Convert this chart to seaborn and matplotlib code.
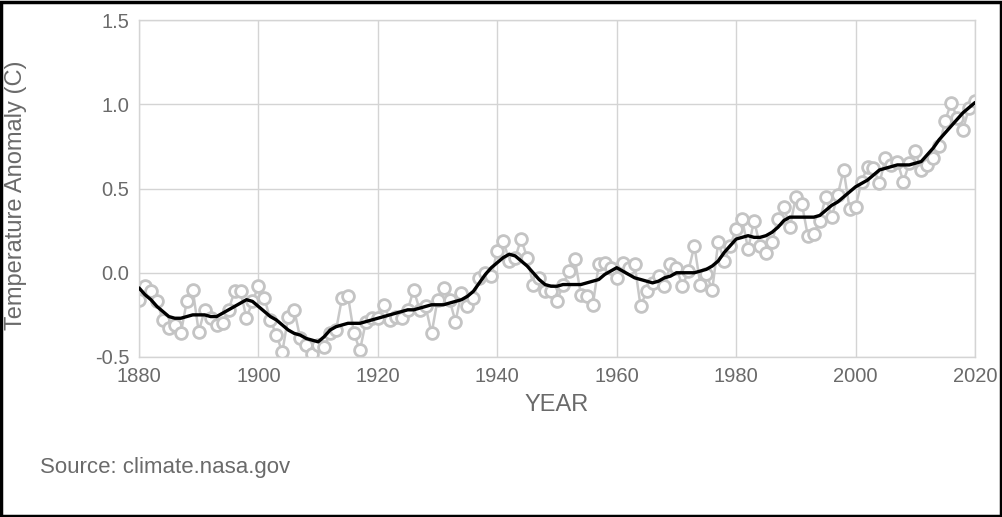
import matplotlib
matplotlib.use("Agg")
import matplotlib.pyplot as plt
import numpy as np
import pandas as pd
import seaborn as sns

# annual mean temperature anomaly (C), 1880-2020
years = list(range(1880, 2021))
annual = [
    -0.16, -0.08, -0.11, -0.17, -0.28, -0.33, -0.31, -0.36, -0.17, -0.10,
    -0.35, -0.22, -0.27, -0.31, -0.30, -0.22, -0.11, -0.11, -0.27, -0.17,
    -0.08, -0.15, -0.28, -0.37, -0.47, -0.26, -0.22, -0.39, -0.43, -0.48,
    -0.43, -0.44, -0.36, -0.34, -0.15, -0.14, -0.36, -0.46, -0.29, -0.27,
    -0.27, -0.19, -0.28, -0.26, -0.27, -0.22, -0.10, -0.22, -0.20, -0.36,
    -0.16, -0.09, -0.16, -0.29, -0.12, -0.20, -0.15, -0.03, -0.00, -0.02,
    0.13, 0.19, 0.07, 0.09, 0.20, 0.09, -0.07, -0.03, -0.11, -0.11,
    -0.17, -0.07, 0.01, 0.08, -0.13, -0.14, -0.19, 0.05, 0.06, 0.03,
    -0.03, 0.06, 0.03, 0.05, -0.20, -0.11, -0.06, -0.02, -0.08, 0.05,
    0.03, -0.08, 0.01, 0.16, -0.07, -0.01, -0.10, 0.18, 0.07, 0.16,
    0.26, 0.32, 0.14, 0.31, 0.16, 0.12, 0.18, 0.32, 0.39, 0.27,
    0.45, 0.41, 0.22, 0.23, 0.31, 0.45, 0.33, 0.46, 0.61, 0.38,
    0.39, 0.54, 0.63, 0.62, 0.53, 0.68, 0.64, 0.66, 0.54, 0.65,
    0.72, 0.61, 0.64, 0.68, 0.75, 0.90, 1.01, 0.92, 0.85, 0.98,
    1.02,
]
# lowess smoothed (5 year)
smooth = [
    -0.09, -0.13, -0.16, -0.20, -0.23, -0.26, -0.27, -0.27, -0.26, -0.25,
    -0.25, -0.25, -0.26, -0.26, -0.24, -0.22, -0.20, -0.18, -0.16, -0.17,
    -0.20, -0.23, -0.26, -0.28, -0.31, -0.34, -0.36, -0.37, -0.39, -0.40,
    -0.41, -0.38, -0.34, -0.32, -0.31, -0.30, -0.30, -0.30, -0.29, -0.28,
    -0.27, -0.26, -0.25, -0.24, -0.23, -0.22, -0.22, -0.21, -0.20, -0.19,
    -0.19, -0.19, -0.18, -0.17, -0.16, -0.14, -0.11, -0.06, -0.01, 0.03,
    0.06, 0.09, 0.11, 0.10, 0.07, 0.04, 0.00, -0.04, -0.07, -0.08,
    -0.08, -0.07, -0.07, -0.07, -0.07, -0.06, -0.05, -0.04, -0.01, 0.01,
    0.03, 0.01, -0.01, -0.03, -0.04, -0.05, -0.06, -0.05, -0.03, -0.02,
    0.00, 0.00, 0.00, 0.00, 0.01, 0.02, 0.04, 0.07, 0.12, 0.16,
    0.20, 0.21, 0.22, 0.21, 0.21, 0.22, 0.24, 0.27, 0.31, 0.33,
    0.33, 0.33, 0.33, 0.33, 0.34, 0.37, 0.40, 0.42, 0.45, 0.48,
    0.51, 0.53, 0.55, 0.58, 0.61, 0.62, 0.63, 0.64, 0.64, 0.64,
    0.65, 0.66, 0.70, 0.74, 0.79, 0.83, 0.87, 0.91, 0.95, 0.98,
    1.01,
]
x_ticks = [1880, 1900, 1920, 1940, 1960, 1980, 2000, 2020]
y_ticks = [-0.5, 0.0, 0.5, 1.0, 1.5]

df = pd.DataFrame({"year": years, "annual": annual, "smooth": smooth})

sns.set_style("whitegrid")
plt.rcParams["font.family"] = ["Liberation Sans", "DejaVu Sans"]

fig = plt.figure(figsize=(10.03, 5.17), dpi=100)
ax = fig.add_axes([139 / 1003, 1 - 357 / 517, 836 / 1003, 337 / 517])

grid_c = "#d4d4d4"
txt_c = "#6a6a6a"
sns.lineplot(data=df, x="year", y="annual", ax=ax, color="#c8c8c8", lw=1.8,
             marker="o", markersize=8.5, markerfacecolor="white",
             markeredgecolor="#c4c4c4", markeredgewidth=2, zorder=2)
sns.lineplot(data=df, x="year", y="smooth", ax=ax, color="black", lw=2.4, zorder=3)

ax.set_xlim(1880, 2020)
ax.set_ylim(-0.5, 1.5)
ax.set_xticks(x_ticks)
ax.set_yticks(y_ticks)
ax.set_yticklabels([f"{v:.1f}" for v in y_ticks])
ax.grid(True, color=grid_c, lw=1)
for s in ax.spines.values():
    s.set_color(grid_c)
    s.set_linewidth(1)
ax.tick_params(length=0, labelsize=14.5, labelcolor=txt_c, pad=7)
ax.set_xlabel("YEAR", fontsize=17, color=txt_c, labelpad=6)
ax.set_ylabel("Temperature Anomaly (C)", fontsize=17, color=txt_c)
ax.yaxis.set_label_coords(-0.134, 0.48)

fig.text(40 / 1003, 1 - 467 / 517, "Source: climate.nasa.gov", fontsize=16,
         color=txt_c, va="center", ha="left")

# black frame around the whole picture
fig.patches.append(plt.Rectangle((0.001, 0.002), 0.997, 0.995, transform=fig.transFigure,
                                 fill=False, edgecolor="black", lw=2.5))

fig.savefig("out.png", dpi=100)
